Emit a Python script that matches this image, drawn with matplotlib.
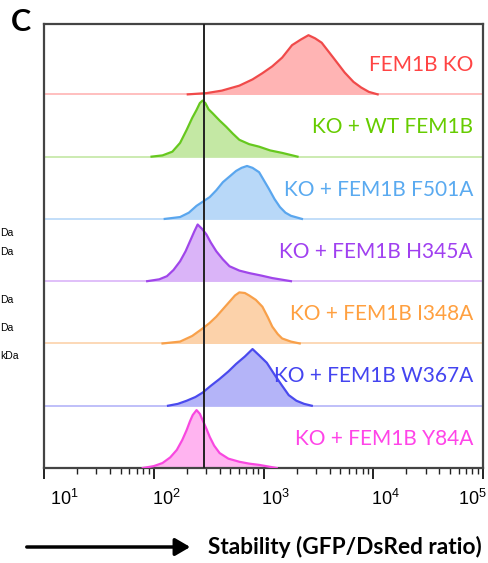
import numpy as np
import matplotlib
matplotlib.use("Agg")
import matplotlib.pyplot as plt
import matplotlib.transforms as mtransforms
from matplotlib.patches import FancyArrowPatch
from matplotlib.ticker import LogLocator, NullFormatter

# =========================
# 1 - Data (log10 of GFP/DsRed ratio, height as fraction of a row)
# =========================
LABELS = ["FEM1B KO", "KO + WT FEM1B", "KO + FEM1B F501A", "KO + FEM1B H345A",
          "KO + FEM1B I348A", "KO + FEM1B W367A", "KO + FEM1B Y84A"]

KO_LOGX = [2.31, 2.48, 2.62, 2.78, 2.90, 2.99, 3.08, 3.17, 3.26, 3.34, 3.41, 3.47, 3.53, 3.64, 3.74, 3.82, 3.89, 3.96, 4.04]
KO_H    = [0.00, 0.02, 0.06, 0.14, 0.24, 0.34, 0.45, 0.59, 0.79, 0.88, 0.95, 0.90, 0.83, 0.58, 0.35, 0.20, 0.11, 0.04, 0.00]

WT_LOGX = [1.98, 2.08, 2.17, 2.24, 2.30, 2.35, 2.39, 2.42, 2.445, 2.47, 2.50, 2.54, 2.60, 2.66, 2.72, 2.78, 2.87, 2.96, 3.06, 3.17, 3.31]
WT_H    = [0.00, 0.02, 0.08, 0.22, 0.43, 0.62, 0.75, 0.86, 0.90, 0.86, 0.76, 0.69, 0.58, 0.48, 0.37, 0.27, 0.20, 0.16, 0.10, 0.06, 0.00]

F501A_LOGX = [2.10, 2.24, 2.32, 2.39, 2.51, 2.57, 2.63, 2.69, 2.75, 2.80, 2.85, 2.90, 2.96, 3.00, 3.05, 3.10, 3.15, 3.20, 3.25, 3.35]
F501A_H    = [0.00, 0.03, 0.10, 0.21, 0.35, 0.46, 0.59, 0.68, 0.77, 0.82, 0.85, 0.82, 0.75, 0.63, 0.48, 0.32, 0.19, 0.10, 0.05, 0.00]

H345A_LOGX = [1.94, 2.05, 2.12, 2.18, 2.24, 2.29, 2.33, 2.37, 2.40, 2.44, 2.48, 2.52, 2.57, 2.63, 2.69, 2.78, 2.87, 2.98, 3.08, 3.25]
H345A_H    = [0.00, 0.03, 0.08, 0.18, 0.32, 0.48, 0.64, 0.80, 0.91, 0.84, 0.75, 0.62, 0.48, 0.35, 0.24, 0.17, 0.13, 0.09, 0.05, 0.00]

I348A_LOGX = [2.08, 2.24, 2.35, 2.445, 2.51, 2.57, 2.63, 2.69, 2.74, 2.78, 2.83, 2.87, 2.93, 2.99, 3.04, 3.08, 3.13, 3.17, 3.25, 3.33]
I348A_H    = [0.00, 0.03, 0.12, 0.24, 0.33, 0.43, 0.55, 0.67, 0.77, 0.82, 0.81, 0.77, 0.70, 0.59, 0.42, 0.27, 0.15, 0.08, 0.03, 0.00]

W367A_LOGX = [2.13, 2.22, 2.30, 2.38, 2.445, 2.52, 2.60, 2.68, 2.75, 2.83, 2.90, 2.96, 3.03, 3.10, 3.17, 3.23, 3.30, 3.37, 3.44]
W367A_H    = [0.00, 0.03, 0.08, 0.14, 0.21, 0.32, 0.43, 0.55, 0.67, 0.79, 0.91, 0.81, 0.69, 0.50, 0.32, 0.17, 0.08, 0.03, 0.00]

Y84A_LOGX = [1.90, 2.00, 2.08, 2.15, 2.21, 2.26, 2.30, 2.33, 2.355, 2.39, 2.42, 2.445, 2.48, 2.51, 2.55, 2.60, 2.68, 2.78, 2.87, 2.96, 3.12]
Y84A_H    = [0.00, 0.03, 0.08, 0.17, 0.29, 0.45, 0.61, 0.75, 0.85, 0.93, 0.87, 0.77, 0.63, 0.50, 0.36, 0.24, 0.15, 0.10, 0.07, 0.05, 0.00]

CURVES_X = [KO_LOGX, WT_LOGX, F501A_LOGX, H345A_LOGX, I348A_LOGX, W367A_LOGX, Y84A_LOGX]
CURVES_H = [KO_H, WT_H, F501A_H, H345A_H, I348A_H, W367A_H, Y84A_H]

GATE = 285  # vertical reference line

# colours: outline / fill / text
LINE_C = ["#f04a4a", "#66c81e", "#5aa6ee", "#a046ea", "#f8a04a", "#4a4aee", "#f848e0"]
FILL_C = ["#ffb4b4", "#c4e8a4", "#b8d8f8", "#dab4f8", "#fcd2aa", "#b4b4f8", "#ffb4f0"]
TEXT_C = ["#ff4444", "#66cc00", "#5aaaf0", "#a040f0", "#ffa040", "#4444f0", "#ff44e8"]

SIDE_TEXT = ["Da", "Da", "Da", "Da", "kDa"]
SIDE_Y    = [233, 252, 300, 328, 356]  # pixel rows

# =========================
# 2 - Figure
# =========================
W, H = 488, 563
fig = plt.figure(figsize=(W / 100, H / 100), dpi=100)
ax = fig.add_axes([44 / W, 95 / H, 439 / W, 444 / H])

n = len(LABELS)
for i in range(n):
    base = n - 1 - i
    xs = 10 ** np.array(CURVES_X[i])
    ys = base + np.array(CURVES_H[i])
    ax.axhline(base, color=FILL_C[i], lw=1.2, zorder=1)
    ax.fill_between(xs, base, ys, color=FILL_C[i], lw=0, zorder=2)
    ax.plot(xs, ys, color=LINE_C[i], lw=1.6, zorder=3, solid_joinstyle="round")
    ax.text(0.977, (base + 0.47) / 7.13, LABELS[i], transform=ax.transAxes,
            ha="right", va="center", color=TEXT_C[i], fontsize=15, family="Lato")

ax.axvline(GATE, color="#222222", lw=1.4, zorder=4)

ax.set_xscale("log")
ax.set_xlim(10, 1e5)
ax.set_ylim(0, 7.13)
ax.set_yticks([])

for s in ax.spines.values():
    s.set_color("#444444")
    s.set_linewidth(1.6)

ax.xaxis.set_major_locator(LogLocator(base=10, numticks=10))
ax.xaxis.set_minor_locator(LogLocator(base=10, subs=np.arange(2, 10), numticks=10))
ax.xaxis.set_minor_formatter(NullFormatter())
ax.tick_params(axis="x", which="major", direction="out", length=8, width=1.4,
               color="#222222", labelsize=13, pad=7)
ax.tick_params(axis="x", which="minor", direction="out", length=4, width=1.0, color="#222222")
for lab in ax.get_xticklabels():
    lab.set_family("Liberation Sans")

# nudge the tick labels like the original
fig.canvas.draw()
shifts = {1: 20, 2: 13, 3: 12, 4: 12, 5: -11}
for tick, lab in zip(ax.xaxis.get_major_ticks(), ax.get_xticklabels()):
    e = int(round(np.log10(tick.get_loc()))) if tick.get_loc() > 0 else 0
    dx = shifts.get(e, 0)
    lab.set_transform(lab.get_transform() + mtransforms.ScaledTranslation(dx / 100, 0, fig.dpi_scale_trans))

# panel letter
fig.text(11 / W, 1 - 22 / H, "C", fontsize=22, fontweight="bold", family="Lato", va="center", ha="left")

# cut-off text from neighbour panel
for t, y in zip(SIDE_TEXT, SIDE_Y):
    fig.text(0.5 / W, 1 - y / H, t, fontsize=7.5, family="Liberation Sans", va="center", ha="left")

# bottom arrow + axis title
fig.add_artist(FancyArrowPatch((24 / W, 1 - 547 / H), (193 / W, 1 - 547 / H),
               transform=fig.transFigure, arrowstyle="-|>,head_length=6,head_width=3.5",
               color="black", lw=2.5, mutation_scale=1.5))
fig.text(482 / W, 1 - 547 / H, "Stability (GFP/DsRed ratio)", fontsize=16.3, fontweight="bold",
         family="Lato", ha="right", va="center")

fig.savefig("out.png", dpi=100)
